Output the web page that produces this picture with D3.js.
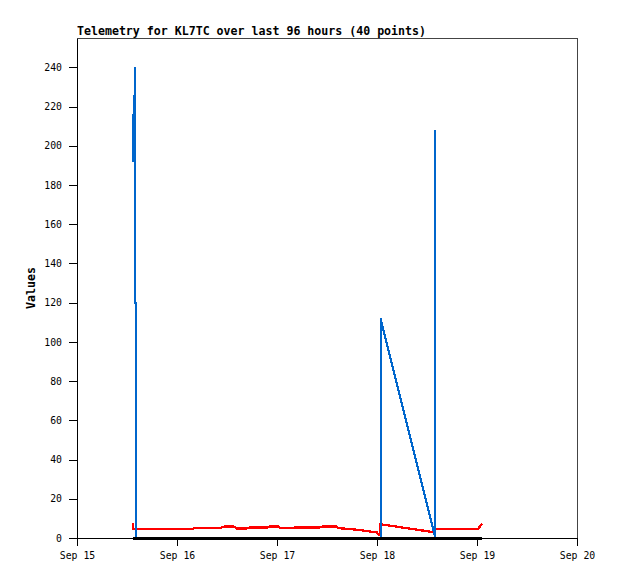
<!DOCTYPE html>
<html>
<head>
<meta charset="utf-8">
<script src="https://cdn.jsdelivr.net/npm/d3@7"></script>
<style>
  html, body { margin: 0; padding: 0; background: #fff; }
  svg { display: block; }
</style>
</head>
<body>
<svg id="chart" width="618" height="579"></svg>
<script>
// ---- data ----
const chartTitle = "Telemetry for KL7TC over last 96 hours (40 points)";
const yAxisLabel = "Values";
const times = [
  "2023-09-15T13:26", "2023-09-15T13:27", "2023-09-15T13:59", "2023-09-15T13:59",
  "2023-09-15T14:14", "2023-09-15T14:14", "2023-09-15T17:31", "2023-09-15T21:07",
  "2023-09-16T03:50", "2023-09-16T04:19", "2023-09-16T10:34", "2023-09-16T11:17",
  "2023-09-16T13:41", "2023-09-16T14:24", "2023-09-16T16:34", "2023-09-16T17:17",
  "2023-09-16T21:36", "2023-09-16T22:19", "2023-09-17T00:14", "2023-09-17T00:58",
  "2023-09-17T03:36", "2023-09-17T04:19", "2023-09-17T10:19", "2023-09-17T11:02",
  "2023-09-17T14:10", "2023-09-17T14:53", "2023-09-17T18:00", "2023-09-17T21:07",
  "2023-09-18T00:00", "2023-09-18T00:29", "2023-09-18T00:52", "2023-09-18T00:52",
  "2023-09-18T13:50", "2023-09-18T13:50", "2023-09-18T13:50", "2023-09-18T17:31",
  "2023-09-18T21:07", "2023-09-19T00:22", "2023-09-19T00:43", "2023-09-19T01:12"
];
const redValues = [
  7.5, 4.8, 4.6, 4.6, 4.6, 4.6, 4.6, 4.6,
  4.6, 5.2, 5.2, 5.8, 5.8, 4.8, 4.8, 5.3,
  5.3, 5.9, 5.9, 5.0, 5.0, 5.4, 5.4, 5.9,
  5.9, 5.0, 4.5, 3.7, 2.8, 1.5, 1.5, 7.0,
  2.9, 4.7, 4.7, 4.7, 4.7, 4.7, 6.0, 7.2
];
const blueValues = [
  216, 192, 240, 120, 120, 0, 0, 0,
  0, 0, 0, 0, 0, 0, 0, 0,
  0, 0, 0, 0, 0, 0, 0, 0,
  0, 0, 0, 0, 0, 0, 0, 112,
  1.5, 208, 0, 0, 0, 0, 0, 0
];
const blackValues = [
  0, 0, 0, 0, 0, 0, 0, 0,
  0, 0, 0, 0, 0, 0, 0, 0,
  0, 0, 0, 0, 0, 0, 0, 0,
  0, 0, 0, 0, 0, 0, 0, 0,
  0, 0, 0, 0, 0, 0, 0, 0
];
const yDomain = [0, 255];
const yTicks = [0, 20, 40, 60, 80, 100, 120, 140, 160, 180, 200, 220, 240];
const xDomain = ["2023-09-15T00:00", "2023-09-20T00:00"];
const xTicks = ["2023-09-15T00:00", "2023-09-16T00:00", "2023-09-17T00:00",
                "2023-09-18T00:00", "2023-09-19T00:00", "2023-09-20T00:00"];

// ---- drawing ----
const parse = s => new Date(s + ":00Z");
const margin = { left: 77, top: 38 };
const W = 500, H = 500;
const svg = d3.select("#chart");
const g = svg.append("g").attr("transform", `translate(${margin.left},${margin.top})`);

const x = d3.scaleUtc().domain(xDomain.map(parse)).range([0, W]);
const y = d3.scaleLinear().domain(yDomain).range([H, 0]);

const monoFont = "'DejaVu Sans Mono', 'Liberation Mono', monospace";

// frame (top and right)
g.append("line").attr("x1", 0).attr("x2", W + 0.5).attr("y1", 0.5).attr("y2", 0.5)
  .attr("stroke", "#444").attr("stroke-width", 1).attr("shape-rendering", "crispEdges");
g.append("line").attr("x1", W + 0.5).attr("x2", W + 0.5).attr("y1", 0).attr("y2", H)
  .attr("stroke", "#444").attr("stroke-width", 1).attr("shape-rendering", "crispEdges");

// axes
const xAxis = d3.axisBottom(x)
  .tickValues(xTicks.map(parse))
  .tickFormat(d3.utcFormat("%b %d"))
  .tickSizeInner(8).tickSizeOuter(0).tickPadding(6);
const yAxis = d3.axisLeft(y)
  .tickValues(yTicks)
  .tickSizeInner(8).tickSizeOuter(0).tickPadding(7);

const gx = g.append("g").attr("transform", `translate(0,${H})`).call(xAxis);
const gy = g.append("g").call(yAxis);
[gx, gy].forEach(a => {
  a.selectAll("path, line").attr("stroke", "#000").attr("shape-rendering", "crispEdges");
  a.selectAll("text").attr("fill", "#000").style("font-family", monoFont).style("font-size", "9.8px");
});
gx.select(".domain").attr("d", `M0,0.5H${W + 1}`);

// series
const pts = vals => times.map((t, i) => [x(parse(t)), y(vals[i])]);
const line = d3.line();
g.append("path").attr("d", line(pts(redValues)))
  .attr("fill", "none").attr("stroke", "#ff0000").attr("stroke-width", 2.3)
  .attr("shape-rendering", "crispEdges");
g.append("path").attr("d", line(pts(blueValues)))
  .attr("fill", "none").attr("stroke", "#0066cc").attr("stroke-width", 2.2)
  .attr("shape-rendering", "crispEdges");
g.append("path").attr("d", line(pts(blackValues)))
  .attr("fill", "none").attr("stroke", "#000").attr("stroke-width", 3)
  .attr("shape-rendering", "crispEdges");

// title
svg.append("text").attr("x", margin.left).attr("y", 35)
  .style("font-family", monoFont).style("font-weight", "bold").style("font-size", "11.6px")
  .attr("fill", "#000").text(chartTitle);

// y label
svg.append("text").attr("transform", `translate(35,${margin.top + H * 0.5}) rotate(-90)`)
  .attr("text-anchor", "middle")
  .style("font-family", monoFont).style("font-weight", "bold").style("font-size", "11.6px")
  .attr("fill", "#000").text(yAxisLabel);
</script>
</body>
</html>
